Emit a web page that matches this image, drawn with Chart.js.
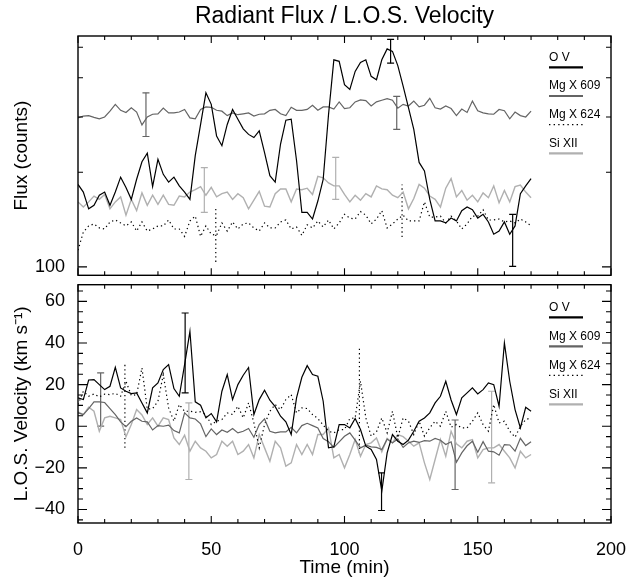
<!DOCTYPE html>
<html><head><meta charset="utf-8">
<script src="https://cdn.jsdelivr.net/npm/chart.js@4.4.1/dist/chart.umd.min.js"></script>
<style>
html,body{margin:0;padding:0;background:#fff;}
#wrap{position:relative;width:631px;height:585px;overflow:hidden;}
canvas{position:absolute;left:0;}
#c1{top:0}
#c2{top:280px}
</style></head><body>
<div id="wrap"><canvas id="c1" width="631" height="280"></canvas><canvas id="c2" width="631" height="305"></canvas></div>
<script>
// ---- data ----
const timesMin = [0,2,4,6,8,10,12,14,16,18,20,22,24,26,28,30,32,34,36,38,40,42,44,46,48,50,52,54,56,58,60,62,64,66,68,70,72,74,76,78,80,82,84,86,88,90,92,94,96,98,100,102,104,106,108,110,112,114,116,118,120,122,124,126,128,130,132,134,136,138,140,142,144,146,148,150,152,154,156,158,160,162,164,166,168,170];

const seriesNames = ['O V', 'Mg X 609', 'Mg X 624', 'Si XII'];

// Radiant flux (counts)
const fluxOV = [183,173,153,157,169,173,157,173,193,179,164,190,216,230,180,220,197,186,193,181,173,164,226,284,358,329,261,243,284,317,295,275,264,258,271,231,195,186,246,293,295,218,149,149,142,162,190,305,456,451,380,367,419,447,456,404,394,456,494,485,437,376,321,274,215,202,164,140,140,138,143,140,151,155,152,143,147,139,127,130,139,127,135,171,181,191];
const fluxMg609 = [298,302,303,299,296,300,313,329,315,310,321,311,283,300,306,307,320,309,309,311,317,298,296,317,323,322,315,313,303,309,305,307,309,302,306,307,315,317,307,303,322,315,315,317,327,315,323,323,318,335,319,321,335,340,338,325,335,339,343,339,320,329,325,337,323,327,344,321,318,325,319,303,318,310,337,314,309,307,306,317,314,296,311,303,300,313];
const fluxMg624 = [113,129,135,137,133,132,139,141,138,135,139,130,139,130,132,135,135,141,132,132,125,140,145,125,135,127,126,138,130,139,132,137,138,133,130,138,133,133,139,141,132,134,126,136,133,140,134,141,132,138,147,143,142,150,146,137,142,151,133,137,142,146,140,140,140,161,144,144,145,138,145,140,132,137,145,145,152,141,141,142,139,140,138,142,139,135];
const fluxSiXII = [161,155,161,168,164,170,153,161,167,146,164,151,172,157,169,158,169,158,157,168,167,173,176,180,169,179,167,171,173,164,171,166,153,163,174,156,155,171,177,177,161,177,176,178,170,194,192,185,181,181,170,161,169,163,171,167,181,177,176,169,166,173,153,165,183,178,168,164,155,178,191,167,175,163,169,161,172,166,181,160,175,161,180,182,173,166];

// L.O.S. velocity (km/s)
const velOV = [13.6,12.8,22.2,22.4,20,17.6,19.2,28.3,18.4,16.8,15.7,16,11.2,6.4,18.4,20.8,27.2,29.6,18.1,14.4,29.6,45.6,11.7,10.1,4,6.1,2.1,16.8,24.8,12.8,20,24.5,28.2,5.6,12.8,17.3,12.5,9.4,4.8,2.1,-4,13.6,23.5,29.1,24.8,24,12,-10.4,-9.9,0.8,0.8,-0.8,3.7,-1.6,-9.6,-11.2,-16,-31.2,-12.8,-4,-7.2,-8.8,-6.7,-2.4,2.4,4,6.4,11.2,14.4,21.6,12.6,5.6,13.6,16,18.4,15.5,17.6,20.8,20,9.6,40,21.6,8,-0.8,9.1,7.2];
const velMg609 = [6.4,5.6,8.5,11.7,11.7,11.4,8.5,5.6,2.1,-0.2,2.4,4,2.4,2.1,-1.8,0.3,0,0.5,-2.1,-3.2,6.4,4,3.5,1.1,-5,-1.3,-4,-1.8,-2.9,-1.1,-3.2,-2.4,-1.1,-5.3,0.8,3.5,-2.4,-3.2,-2.7,-2.7,-0.5,-3.2,0.3,1.4,0.3,-0.8,-5.9,-7.4,-10.2,-7.5,-4.8,-3.2,-6.7,-10.4,-9.1,-9.9,-10.2,-11.2,-6.2,-8,-6.1,-10.2,-8,-7.2,-7.8,-6.9,-7.2,-5.9,-6.7,-8.8,-7.5,-17.3,-12.8,-9.4,-7.2,-12.5,-7.4,-12,-12.3,-13.9,-8.8,-9,-12,-5.8,-9.3,-7.5];
const velMg624 = [10.4,16.8,14.4,15.5,14.1,15.4,15.2,15.8,14.4,21.6,14.7,15.2,28,8.2,8.5,12,24.8,8.8,2.4,10.4,7.2,7.2,6.7,6.9,5.6,0.8,2.4,3.2,6.4,5.6,9.6,4,11.2,1.6,-10.4,0.8,7.2,10.4,8,12.8,15.2,6.4,8.8,8.5,5.6,3.7,0.5,-2.4,-3.2,-1.6,-1.6,3.7,4,21.6,4,-4.8,-2.7,4,-3.2,7.2,-5.6,4,2.4,-4,2.4,-4.8,-0.8,2.4,0,7.2,-0.5,0.8,-0.8,-0.8,2.4,6.4,0.8,-2.4,10.4,1.6,2.4,-2.4,-5.3,0,3.2,4];
const velSiXII = [6.9,5.6,9.1,7.2,-2.4,4,4.8,4,3.2,-5.1,0.8,8,5.4,0.8,4,0,4,3.2,-5.6,-8.8,-4.3,-12,-7.2,-10.4,-12,-15.2,-13.6,-7.2,-9.6,-7.2,-13.6,-12,-8.8,-15.2,-4,-10.4,-16.8,-7.2,-10.4,-19.2,-17.6,-8.8,-13.6,-8.8,-13.6,-4,-4,-0.8,-15.2,-13.6,-20,-13.6,-6.4,-14.4,-8.8,-8,-5.6,-12.3,-5.9,-8,-4,-5,-7.2,-9.6,-8,-17.6,-25.6,-16,-6.4,-14.4,-2.4,-8.5,-10.4,-7.2,-6.4,-15.2,-11.2,-10.4,-10.4,-8.8,-12,-15.2,-20,-12,-15.2,-13.6];

// error bars: series, time, low, high
const fluxErrSeries = ['O V','O V','Mg X 609','Mg X 609','Si XII','Si XII','Mg X 624','Mg X 624'];
const fluxErrTime   = [117.3, 163.1, 25.5, 119.6, 47.4, 96.7, 51.7, 121.6];
const fluxErrLow    = [445, 100.4, 260, 274, 149, 164, 103.7, 124.5];
const fluxErrHigh   = [530, 147, 358, 349, 207, 223, 153, 183];

const velErrSeries = ['O V','O V','Mg X 609','Mg X 609','Si XII','Si XII','Mg X 624','Mg X 624'];
const velErrTime   = [40.2, 113.9, 8.5, 141.5, 41.6, 155.2, 17.6, 105.6];
const velErrLow    = [16, -40.5, 0, -30.4, -25.6, -27.2, -10.4, -13];
const velErrHigh   = [54.4, -22.4, 25.6, 3, 11.2, 16.8, 30.4, 38.4];

// axis ticks
const xMajorTicks = [0,50,100,150,200];
const xMinorTicks = [10,20,30,40,60,70,80,90,110,120,130,140,160,170,180,190];
const fluxMajorTicks = [100];
const fluxMinorTicks = [200,300,400,500];
const velMajorTicks = [-40,-20,0,20,40,60];
const velMinorTicks = [-45,-35,-30,-25,-15,-10,-5,5,10,15,25,30,35,45,50,55,65];

// ---- styles ----
const FONT = "'Liberation Sans', Arial, sans-serif";
Chart.defaults.font.family = FONT;
Chart.defaults.color = '#000';
const sColor = {'O V':'#000000','Mg X 609':'#646464','Mg X 624':'#000000','Si XII':'#b0b0b0'};
const sDash = {'O V':[], 'Mg X 609':[], 'Mg X 624':[1.3,3.0], 'Si XII':[]};
const sWidth = {'O V':1.2, 'Mg X 609':1.2, 'Mg X 624':1.2, 'Si XII':1.4};

function lineDS(name, vals) {
  return {label:name, data: timesMin.map((t,k)=>({x:t, y:vals[k]})), borderColor:sColor[name],
    borderWidth:sWidth[name], borderDash:sDash[name], pointRadius:0, pointHoverRadius:0, tension:0, fill:false};
}
function errDS(name, t, lo, hi) {
  const dotted = sDash[name].length > 0;
  return {label:'err', data:[{x:t,y:lo},{x:t,y:hi}], borderColor:sColor[name], borderWidth:1.2,
    borderDash:sDash[name], pointStyle:'line', pointRadius: dotted ? 0 : 3.5, pointHoverRadius:0,
    pointBorderColor:sColor[name], pointBorderWidth:1.2, tension:0, fill:false};
}

const framePlugin = {
  id: 'idlFrame',
  afterDatasetsDraw(chart, args, o) {
    const {ctx, chartArea:a, scales} = chart;
    const xs = scales.x, ys = scales.y;
    ctx.save();
    ctx.strokeStyle = '#000';
    ctx.setLineDash([]);
    ctx.lineWidth = 1.4;
    ctx.strokeRect(a.left, a.top, a.right - a.left, a.bottom - a.top);
    ctx.lineWidth = 1.1;
    ctx.beginPath();
    const tk = (vals, len, isX) => vals.forEach(v => {
      if (isX) { const p = xs.getPixelForValue(v); ctx.moveTo(p, a.bottom); ctx.lineTo(p, a.bottom - len); ctx.moveTo(p, a.top); ctx.lineTo(p, a.top + len); }
      else { const p = ys.getPixelForValue(v); ctx.moveTo(a.left, p); ctx.lineTo(a.left + len, p); ctx.moveTo(a.right, p); ctx.lineTo(a.right - len, p); }
    });
    tk(o.xMajor, 7, true); tk(o.xMinor, 4, true); tk(o.yMajor, 9, false); tk(o.yMinor, 5, false);
    ctx.stroke();
    ctx.restore();
  }
};
const legendPlugin = {
  id: 'idlLegend',
  afterDraw(chart, args, o) {
    const ctx = chart.ctx;
    ctx.save();
    ctx.font = "12px " + FONT;
    ctx.fillStyle = '#000';
    ctx.textBaseline = 'alphabetic';
    ctx.textAlign = 'left';
    seriesNames.forEach((n, i) => {
      const yb = o.y0 + i * o.dy;
      ctx.fillText(n, o.x, yb);
      ctx.beginPath();
      ctx.strokeStyle = sColor[n];
      ctx.lineWidth = sDash[n].length ? 1.3 : 2.2;
      ctx.setLineDash(sDash[n].length ? [1.4, 3.2] : []);
      ctx.moveTo(o.x, yb + 6.6);
      ctx.lineTo(o.x + 34, yb + 6.6);
      ctx.stroke();
    });
    ctx.restore();
  }
};

function fmtMinus(v) { return v < 0 ? '\u2212' + Math.abs(v) : String(v); }
function fixY(s) { s.width = 78; s.paddingTop = 0; s.paddingBottom = 0; }
function fixX(s) { s.height = 62; s.paddingLeft = 0; s.paddingRight = 0; }

// ---- top panel: flux ----
const fluxSets = [
  lineDS('O V', fluxOV), lineDS('Mg X 609', fluxMg609), lineDS('Mg X 624', fluxMg624), lineDS('Si XII', fluxSiXII)
].concat(fluxErrTime.map((t,i)=>errDS(fluxErrSeries[i], t, fluxErrLow[i], fluxErrHigh[i])));

new Chart(document.getElementById('c1'), {
  type: 'line',
  data: { datasets: fluxSets },
  plugins: [framePlugin, legendPlugin],
  options: {
    responsive:false, animation:false, devicePixelRatio:1,
    layout: { padding: {top:0, right:20, bottom:3, left:0} },
    plugins: {
      legend:{display:false}, tooltip:{enabled:false},
      title: { display:true, text:'Radiant Flux / L.O.S. Velocity', fullSize:false, color:'#000',
        font:{size:23, weight:'normal', family:FONT, lineHeight:1.1}, padding:{top:4, bottom:6.7} },
      idlFrame: { xMajor:xMajorTicks, xMinor:xMinorTicks, yMajor:fluxMajorTicks, yMinor:fluxMinorTicks },
      idlLegend: { x:549, y0:60.7, dy:28.7 }
    },
    scales: {
      x: { type:'linear', min:0, max:200, display:false },
      y: { type:'logarithmic', min:94, max:543,
        grid:{display:false}, border:{display:false},
        afterBuildTicks: s => { s.ticks = fluxMajorTicks.map(v=>({value:v})); },
        afterFit: fixY,
        ticks:{ padding:5, font:{size:18}, color:'#000', callback: v => String(v), autoSkip:false },
        title:{ display:true, text:'Flux (counts)', font:{size:19}, color:'#000', padding:{top:10.6, bottom:0} }
      }
    }
  }
});

// ---- bottom panel: velocity ----
const velSets = [
  lineDS('O V', velOV), lineDS('Mg X 609', velMg609), lineDS('Mg X 624', velMg624), lineDS('Si XII', velSiXII)
].concat(velErrTime.map((t,i)=>errDS(velErrSeries[i], t, velErrLow[i], velErrHigh[i])));

new Chart(document.getElementById('c2'), {
  type: 'line',
  data: { datasets: velSets },
  plugins: [framePlugin, legendPlugin],
  options: {
    responsive:false, animation:false, devicePixelRatio:1,
    layout: { padding: {top:4, right:20, bottom:0, left:0} },
    plugins: {
      legend:{display:false}, tooltip:{enabled:false},
      idlFrame: { xMajor:xMajorTicks, xMinor:xMinorTicks, yMajor:velMajorTicks, yMinor:velMinorTicks },
      idlLegend: { x:549, y0:30.8, dy:29 }
    },
    scales: {
      x: { type:'linear', min:0, max:200,
        grid:{display:false}, border:{display:false},
        afterBuildTicks: s => { s.ticks = xMajorTicks.map(v=>({value:v})); },
        afterFit: fixX,
        ticks:{ padding:8, font:{size:18}, color:'#000', maxRotation:0, autoSkip:false, callback: v => String(v) },
        title:{ display:true, text:'Time (min)', font:{size:19}, color:'#000', padding:{top:0, bottom:5.6} }
      },
      y: { type:'linear', min:-46.5, max:68,
        grid:{display:false}, border:{display:false},
        afterBuildTicks: s => { s.ticks = velMajorTicks.map(v=>({value:v})); },
        afterFit: fixY,
        ticks:{ padding:5, font:{size:18}, color:'#000', autoSkip:false, callback: v => fmtMinus(v) },
        title:{ display:true, text:'L.O.S. Velocity (km s\u207B\u00B9)', font:{size:19}, color:'#000', padding:{top:10.6, bottom:0} }
      }
    }
  }
});
</script>
</body></html>
